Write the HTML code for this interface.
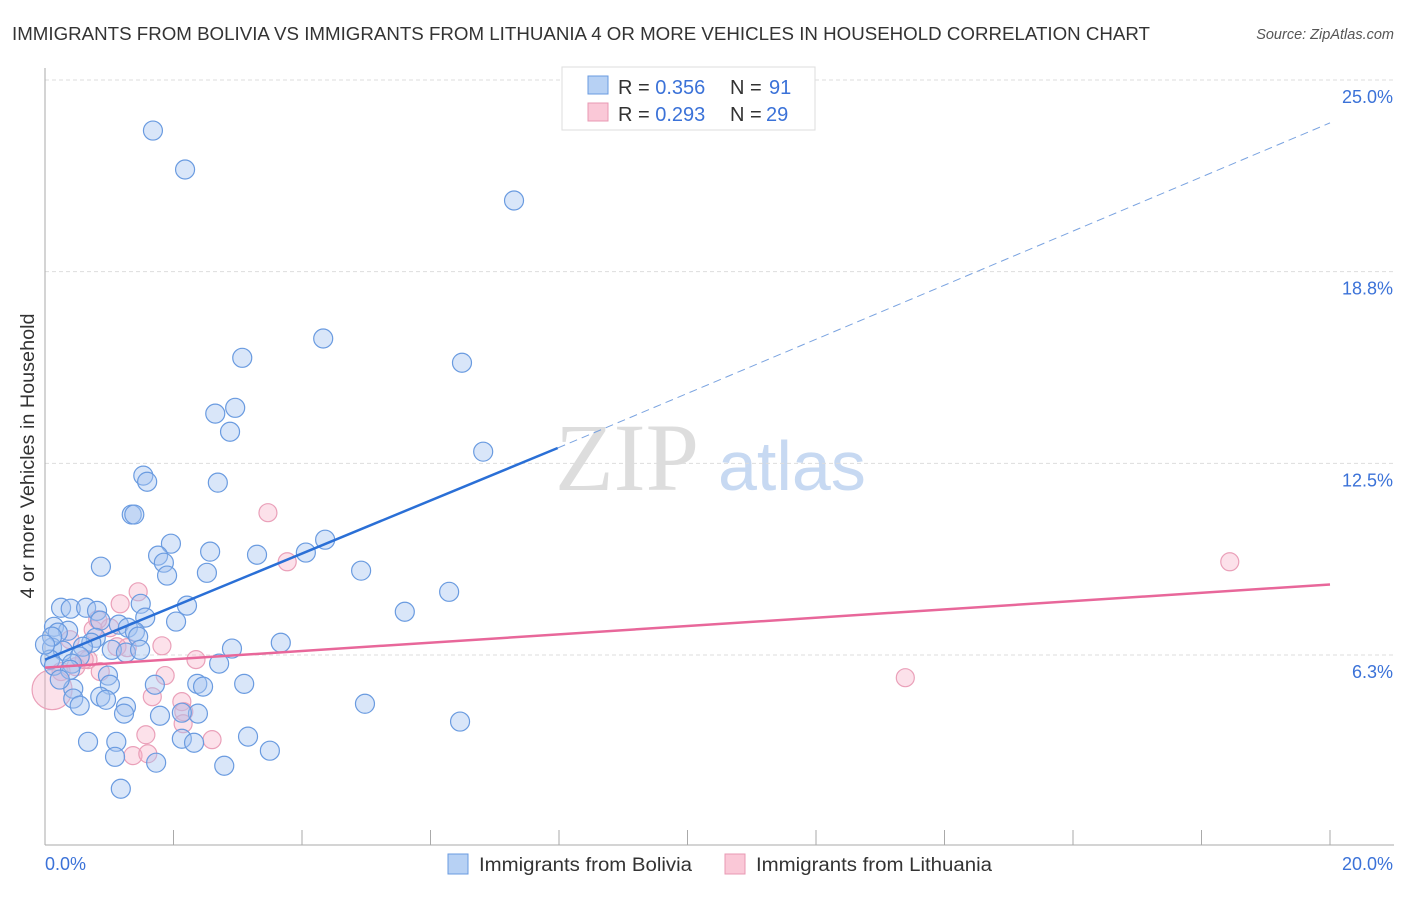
<!DOCTYPE html>
<html><head><meta charset="utf-8"><style>
body{margin:0;background:#fff;font-family:"Liberation Sans",sans-serif}
svg text{font-family:"Liberation Sans",sans-serif}
</style></head><body>
<svg width="1406" height="892" viewBox="0 0 1406 892">
<text x="12" y="40" font-size="18" fill="#333" textLength="1138" lengthAdjust="spacingAndGlyphs">IMMIGRANTS FROM BOLIVIA VS IMMIGRANTS FROM LITHUANIA 4 OR MORE VEHICLES IN HOUSEHOLD CORRELATION CHART</text>
<text x="1394" y="39" font-size="14.5" fill="#555" font-style="italic" text-anchor="end">Source: ZipAtlas.com</text>
<g>
<text x="555" y="490" font-size="96" fill="#ddd" style="font-family:'Liberation Serif',serif">ZIP</text>
<text x="718" y="490" font-size="70" fill="#c7d9f2">atlas</text>
</g>
<g id="grid"></g>
<g id="axes"></g>
<g id="marks"></g>
<text transform="translate(34,456) rotate(-90)" font-size="19.5" fill="#333" text-anchor="middle" textLength="285" lengthAdjust="spacingAndGlyphs">4 or more Vehicles in Household</text>
<g>
<rect x="562" y="67" width="253" height="63" fill="#fff" stroke="#ddd"/>
<rect x="588" y="76" width="20" height="18" fill="#b7d1f4" stroke="#6a9be0"/>
<rect x="588" y="103" width="20" height="18" fill="#fac8d7" stroke="#e899b3"/>
<text x="618" y="94" font-size="20" fill="#333">R = <tspan fill="#3b72d8">0.356</tspan></text>
<text x="730" y="94" font-size="20" fill="#333">N = <tspan x="769" fill="#3b72d8">91</tspan></text>
<text x="618" y="121" font-size="20" fill="#333">R = <tspan fill="#3b72d8">0.293</tspan></text>
<text x="730" y="121" font-size="20" fill="#333">N = <tspan x="766" fill="#3b72d8">29</tspan></text>
</g>
<g>
<rect x="448" y="854" width="20" height="20" fill="#b7d1f4" stroke="#6a9be0"/>
<text x="479" y="871" font-size="19" fill="#333" textLength="213" lengthAdjust="spacingAndGlyphs">Immigrants from Bolivia</text>
<rect x="725" y="854" width="20" height="20" fill="#fac8d7" stroke="#e899b3"/>
<text x="756" y="871" font-size="19" fill="#333" textLength="236" lengthAdjust="spacingAndGlyphs">Immigrants from Lithuania</text>
</g>
</svg>
<script>
const blueX=[1.68,2.18,7.30,4.33,3.07,6.49,2.96,2.65,2.88,6.82,1.53,1.59,2.69,1.35,1.39,4.36,1.96,2.57,1.76,3.30,4.06,1.85,0.87,4.92,2.52,1.90,6.29,1.49,2.21,0.25,0.40,0.64,0.81,5.60,1.56,2.04,0.86,1.15,0.14,0.36,0.20,1.29,1.40,1.45,3.67,2.91,0.79,0.72,0.59,1.04,1.26,0.11,0.28,0.54,0.08,0.14,0.42,2.71,0.98,1.01,1.71,2.37,2.46,3.10,0.44,0.86,0.44,0.54,4.98,1.26,1.23,1.79,2.38,2.13,6.46,2.13,2.32,3.16,0.67,1.11,3.50,1.09,1.73,2.79,1.18,0.11,0.00,0.39,0.95,0.23,1.48];
const blueY=[23.35,22.08,21.07,16.57,15.94,15.78,14.31,14.12,13.53,12.88,12.10,11.90,11.87,10.83,10.83,10.01,9.88,9.62,9.49,9.52,9.59,9.26,9.13,9.00,8.93,8.84,8.31,7.92,7.86,7.79,7.76,7.79,7.69,7.66,7.47,7.34,7.37,7.24,7.17,7.04,6.98,7.14,7.01,6.85,6.65,6.46,6.81,6.65,6.52,6.42,6.33,6.49,6.39,6.20,6.10,5.90,5.97,5.97,5.58,5.28,5.28,5.31,5.22,5.31,5.15,4.89,4.83,4.60,4.66,4.56,4.34,4.27,4.34,4.37,4.08,3.52,3.39,3.59,3.42,3.42,3.13,2.93,2.74,2.64,1.89,6.85,6.59,5.77,4.79,5.45,6.42];
const pinkX=[3.47,3.77,1.45,1.17,1.82,2.35,1.01,0.75,1.12,0.67,0.48,0.86,1.28,0.25,0.11,1.87,2.13,1.67,2.16,1.57,2.15,2.60,1.37,1.60,18.44,13.39,0.82,0.61,0.39];
const pinkY=[10.89,9.29,8.31,7.92,6.55,6.10,7.14,7.08,6.52,6.10,5.87,5.71,6.49,5.71,5.12,5.58,4.73,4.89,4.40,3.65,4.01,3.49,2.97,3.03,9.29,5.51,7.40,6.10,6.75];
const pinkR=[9,9,9,9,9,9,9,9,9,9,9,9,9,9,20,9,9,9,9,9,9,9,9,9,9,9,9,9,9];
const yTicks=[25,18.75,12.5,6.25];
const yTickLabels=["25.0%","18.8%","12.5%","6.3%"];
const xTickCount=10;
const blueTrend=[[0,6.1],[7.98,13.0],[20,23.6]];
const pinkTrend=[[0,5.84],[20,8.55]];
const NS="http://www.w3.org/2000/svg";
const X0=45,X1=1330,Y0=846.7,PPY=30.67;
const sx=v=>X0+(X1-X0)*v/20, sy=v=>Y0-v*PPY;
function mk(tag,attrs,parent){const e=document.createElementNS(NS,tag);for(const k in attrs)e.setAttribute(k,attrs[k]);document.getElementById(parent).appendChild(e);return e;}
yTicks.forEach((t,i)=>{
 const g=mk('line',{x1:X0,x2:1394,y1:sy(t),y2:sy(t),stroke:'#ddd','stroke-dasharray':'4,3'},'grid');
 
 
 const l=mk('text',{x:1393,y:sy(t)+23,'font-size':18,fill:'#3b72d8','text-anchor':'end'},'grid');
 l.textContent=yTickLabels[i];
 
 
});
let a=mk('line',{x1:X0,x2:X0,y1:68,y2:845,stroke:'#aaa'},'axes');


a=mk('line',{x1:X0,x2:1394,y1:845,y2:845,stroke:'#aaa'},'axes');


for(let i=1;i<=xTickCount;i++){
 const x=sx(20*i/xTickCount);
 const t=mk('line',{x1:x,x2:x,y1:830,y2:845,stroke:'#aaa'},'axes');
 
 
}
a=mk('text',{x:45,y:870,'font-size':18,fill:'#3b72d8'},'axes');a.textContent='0.0%';


a=mk('text',{x:1393,y:870,'font-size':18,fill:'#3b72d8','text-anchor':'end'},'axes');a.textContent='20.0%';


pinkX.forEach((v,i)=>{
 const c=mk('circle',{cx:sx(v),cy:sy(pinkY[i]),r:pinkR[i],fill:'rgba(246,170,196,0.35)',stroke:'#eaa0b9','stroke-width':1.2},'marks');
 
 
});
blueX.forEach((v,i)=>{
 const c=mk('circle',{cx:sx(v),cy:sy(blueY[i]),r:9.5,fill:'rgba(164,196,240,0.42)',stroke:'#6a9be0','stroke-width':1.2},'marks');
 
 
});
let ln=mk('line',{x1:sx(blueTrend[0][0]),y1:sy(blueTrend[0][1]),x2:sx(blueTrend[1][0]),y2:sy(blueTrend[1][1]),stroke:'#2a6fd6','stroke-width':2.5},'marks');


ln=mk('line',{x1:sx(blueTrend[1][0]),y1:sy(blueTrend[1][1]),x2:sx(blueTrend[2][0]),y2:sy(blueTrend[2][1]),stroke:'#7aa3e0','stroke-width':1,'stroke-dasharray':'8,5'},'marks');


ln=mk('line',{x1:sx(pinkTrend[0][0]),y1:sy(pinkTrend[0][1]),x2:sx(pinkTrend[1][0]),y2:sy(pinkTrend[1][1]),stroke:'#e8679a','stroke-width':2.5},'marks');


</script>
</body></html>
